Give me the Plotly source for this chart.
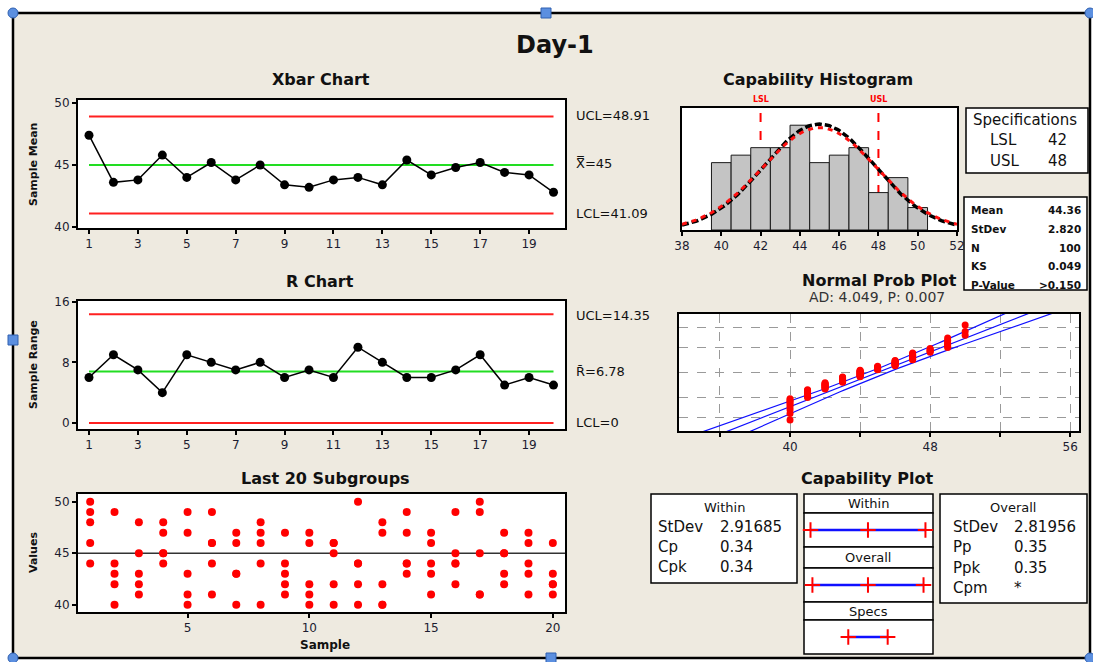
import numpy as np
import plotly.graph_objects as go
from statistics import NormalDist

OFF = 0
WF, HF = 1093, 662
FONT = "DejaVu Sans"
INK = "#111111"
TICK_INK = "#1c1c30"
PANEL = "#EEEAE0"

# ---------------- data ----------------
sample_no = list(range(1, 21))
xbar_means = [47.4, 43.6, 43.8, 45.8, 44.0, 45.2, 43.8, 45.0, 43.4, 43.2,
              43.8, 44.0, 43.4, 45.4, 44.2, 44.8, 45.2, 44.4, 44.2, 42.8]
xbar_ucl, xbar_cl, xbar_lcl = 48.91, 45.0, 41.09
sample_ranges = [6, 9, 7, 4, 9, 8, 7, 8, 6, 7, 6, 10, 8, 6, 6, 7, 9, 5, 6, 5]
r_ucl, r_cl, r_lcl = 14.35, 6.78, 0.0
subgroup_values = [
    [50, 49, 48, 46, 44], [49, 44, 43, 42, 40], [48, 45, 43, 42, 41], [48, 47, 45, 45, 44],
    [49, 47, 43, 41, 40], [49, 46, 46, 44, 41], [47, 46, 43, 43, 40], [48, 47, 46, 44, 40],
    [47, 44, 43, 42, 41], [47, 46, 42, 41, 40], [46, 46, 45, 42, 40], [50, 44, 44, 42, 40],
    [48, 47, 42, 40, 40], [49, 47, 44, 44, 43], [47, 46, 44, 43, 41], [49, 45, 44, 44, 42],
    [50, 49, 45, 41, 41], [47, 45, 45, 43, 42], [47, 46, 44, 43, 41], [46, 43, 42, 42, 41],
]
hist_values = list(range(40, 51))
hist_counts = [9, 10, 11, 11, 14, 9, 10, 11, 5, 7, 3]
lsl, usl = 42, 48
process_mean = 45.0
stdev_within = 2.91685
stdev_overall = 2.81956
n_obs = 100
prob_grid_pct = [1, 10, 50, 90, 99]
prob_tick_vals = [36, 40, 44, 48, 52, 56]
prob_tick_text = ["", "40", "", "48", "", "56"]

spec_rows = [("LSL", "42"), ("USL", "48")]
stat_rows = [("Mean", "44.36"), ("StDev", "2.820"), ("N", "100"), ("KS", "0.049"), ("P-Value", ">0.150")]
within_rows = [("StDev", "2.91685"), ("Cp", "0.34"), ("Cpk", "0.34")]
overall_rows = [("StDev", "2.81956"), ("Pp", "0.35"), ("Ppk", "0.35"), ("Cpm", "*")]


# ---------------- helpers (window pixel -> paper) ----------------
def X(p):
    return (p - OFF) / WF


def Y(p):
    return 1 - (p - OFF) / HF


def xdom(a, b):
    return [X(a), X(b)]


def ydom(a, b):
    return [Y(b), Y(a)]


annotations = []
shapes = []


def text(x, y, s, size=12, bold=False, color=INK, xanchor="center", yanchor="middle",
         angle=0, xref="paper"):
    annotations.append(dict(
        x=X(x) if xref == "paper" else x, y=Y(y), xref=xref, yref="paper",
        text=f"<b>{s}</b>" if bold else s, showarrow=False,
        font=dict(family=FONT, size=size, color=color),
        xanchor=xanchor, yanchor=yanchor, textangle=angle))


def box(x0, y0, x1, y1, lw=1.5, fill="white"):
    shapes.append(dict(type="rect", xref="paper", yref="paper",
                       x0=X(x0), x1=X(x1), y0=Y(y1), y1=Y(y0),
                       line=dict(color="black", width=lw), fillcolor=fill, layer="below"))


frame = dict(showline=True, mirror=True, linecolor="black", linewidth=2, showgrid=False,
             zeroline=False, ticks="outside", ticklen=4, tickwidth=1.5, tickcolor="black",
             automargin=False,
             tickfont=dict(family=FONT, size=12, color=TICK_INK))

fig = go.Figure()

# ---------------- Xbar chart ----------------
for val, col in [(xbar_ucl, "#FF2020"), (xbar_lcl, "#FF2020"), (xbar_cl, "#22DD22")]:
    fig.add_trace(go.Scatter(x=[sample_no[0], sample_no[-1]], y=[val, val], mode="lines",
                             line=dict(color=col, width=2), xaxis="x", yaxis="y", hoverinfo="skip"))
fig.add_trace(go.Scatter(x=sample_no, y=xbar_means, mode="lines+markers",
                         line=dict(color="black", width=1.5), marker=dict(color="black", size=9),
                         xaxis="x", yaxis="y"))

# ---------------- R chart ----------------
for val, col in [(r_ucl, "#FF2020"), (r_lcl, "#FF2020"), (r_cl, "#22DD22")]:
    fig.add_trace(go.Scatter(x=[sample_no[0], sample_no[-1]], y=[val, val], mode="lines",
                             line=dict(color=col, width=2), xaxis="x2", yaxis="y2", hoverinfo="skip"))
fig.add_trace(go.Scatter(x=sample_no, y=sample_ranges, mode="lines+markers",
                         line=dict(color="black", width=1.5), marker=dict(color="black", size=9),
                         xaxis="x2", yaxis="y2"))

# ---------------- Last 20 subgroups ----------------
dot_x, dot_y = [], []
for s, vals in zip(sample_no, subgroup_values):
    for v in vals:
        dot_x.append(s)
        dot_y.append(v)
fig.add_trace(go.Scatter(x=dot_x, y=dot_y, mode="markers", marker=dict(color="#FF0000", size=8),
                         xaxis="x3", yaxis="y3"))
shapes.append(dict(type="line", xref="x3 domain", yref="y3", x0=0, x1=1, y0=process_mean, y1=process_mean,
                   line=dict(color="#333333", width=1.5), layer="below"))

# ---------------- Capability histogram ----------------
fig.add_trace(go.Bar(x=hist_values, y=hist_counts, width=1,
                     marker=dict(color="#C4C4C4", line=dict(color="#1a1a1a", width=1)),
                     xaxis="x4", yaxis="y4"))
xs = np.linspace(38, 52, 141)
overall_curve = [n_obs * NormalDist(process_mean, stdev_overall).pdf(v) for v in xs]
within_curve = [n_obs * NormalDist(process_mean, stdev_within).pdf(v) for v in xs]
fig.add_trace(go.Scatter(x=xs, y=overall_curve, mode="lines",
                         line=dict(color="black", width=3.5, dash="7px,3px"), xaxis="x4", yaxis="y4"))
fig.add_trace(go.Scatter(x=xs, y=within_curve, mode="lines",
                         line=dict(color="#FF1010", width=3, dash="5px,5px"), xaxis="x4", yaxis="y4"))
for v, lab in [(lsl, "LSL"), (usl, "USL")]:
    shapes.append(dict(type="line", xref="x4", yref="y4 domain", x0=v, x1=v, y0=0, y1=1,
                       line=dict(color="#FF0000", width=2, dash="dash"), layer="below"))
    text(v, 99, lab, size=8, bold=True, color="#FF0000", xref="x4")

# ---------------- Normal probability plot ----------------
sorted_vals = sorted(v for grp in subgroup_values for v in grp)
n = len(sorted_vals)
nd = NormalDist()
scores = [nd.inv_cdf((i - 0.3) / (n + 0.4)) for i in range(1, n + 1)]
zz = np.linspace(-3.3, 3.3, 67)
fit = process_mean + stdev_overall * zz
half = 1.96 * stdev_overall * np.sqrt(1.0 / n + zz ** 2 / (2.0 * (n - 1)))
for line_x in (fit - half, fit, fit + half):
    fig.add_trace(go.Scatter(x=line_x, y=zz, mode="lines", line=dict(color="#1010FF", width=1.2),
                             xaxis="x5", yaxis="y5", hoverinfo="skip"))
fig.add_trace(go.Scatter(x=sorted_vals, y=scores, mode="markers", marker=dict(color="#FF0000", size=7),
                         xaxis="x5", yaxis="y5"))

# ---------------- Capability plot lines ----------------
cap_lines = [
    ("x6", "y6", [process_mean - 3 * stdev_within, process_mean, process_mean + 3 * stdev_within]),
    ("x7", "y7", [process_mean - 3 * stdev_overall, process_mean, process_mean + 3 * stdev_overall]),
    ("x8", "y8", [lsl, usl]),
]
for xa, ya, xv in cap_lines:
    fig.add_trace(go.Scatter(x=xv, y=[0] * len(xv), mode="lines+markers",
                             line=dict(color="#1010FF", width=2.5),
                             marker=dict(symbol="cross-thin", size=11, line=dict(color="#FF0000", width=2)),
                             xaxis=xa, yaxis=ya, cliponaxis=False))

# ---------------- panel / boxes ----------------
for (a, b, c, d) in [(0, 0, 1093, 12), (0, 659, 1093, 662), (0, 0, 12, 662), (1091, 0, 1093, 662)]:
    shapes.append(dict(type="rect", xref="paper", yref="paper", x0=X(a), x1=X(c), y0=Y(d), y1=Y(b),
                       line=dict(width=0), fillcolor="white", layer="below"))
shapes.append(dict(type="rect", xref="paper", yref="paper", x0=X(13), x1=X(1090), y0=Y(658), y1=Y(13),
                   line=dict(color="black", width=2.5), fillcolor="rgba(0,0,0,0)", layer="above"))

box(966, 108, 1088, 173)
box(964, 197, 1087, 290)
box(651, 494, 797, 583)
for (a, b) in [(494, 513), (513, 547), (547, 568), (568, 602), (602, 620), (620, 654)]:
    box(804, a, 933, b)
box(940, 494, 1087, 603)

# selection handles
for (hx, hy) in [(13, 13), (1090, 13), (13, 658), (1090, 658)]:
    shapes.append(dict(type="circle", xref="paper", yref="paper", x0=X(hx - 5), x1=X(hx + 5),
                       y0=Y(hy + 5), y1=Y(hy - 5), fillcolor="#5B8FE0", line=dict(color="#3060B0", width=1),
                       layer="above"))
for (hx, hy) in [(546, 13), (13, 340), (551, 658)]:
    shapes.append(dict(type="rect", xref="paper", yref="paper", x0=X(hx - 5), x1=X(hx + 5),
                       y0=Y(hy + 5), y1=Y(hy - 5), fillcolor="#5B8FE0", line=dict(color="#3060B0", width=1),
                       layer="above"))

# ---------------- texts ----------------
text(555, 45, "Day-1", size=24, bold=True)
text(321, 79, "Xbar Chart", size=16, bold=True)
text(320, 281, "R Chart", size=16, bold=True)
text(325, 478, "Last 20 Subgroups", size=16, bold=True)
text(818, 79, "Capability Histogram", size=16, bold=True)
text(879, 280, "Normal Prob Plot", size=16, bold=True)
text(877, 297, "AD: 4.049, P: 0.007", size=14, color="#333333")
text(867, 478, "Capability Plot", size=16, bold=True)

text(33, 165, "Sample Mean", size=11, bold=True, angle=-90)
text(33, 365, "Sample Range", size=11, bold=True, angle=-90)
text(33, 553, "Values", size=11, bold=True, angle=-90)
text(325, 645, "Sample", size=12, bold=True)

text(574, 115, f"UCL={xbar_ucl:.2f}", size=13, xanchor="left")
text(574, 163, f"X\u033f={xbar_cl:g}", size=13, xanchor="left")
text(574, 213, f"LCL={xbar_lcl:.2f}", size=13, xanchor="left")
text(574, 315, f"UCL={r_ucl:.2f}", size=13, xanchor="left")
text(574, 371, f"R\u0304={r_cl:.2f}", size=13, xanchor="left")
text(574, 423, f"LCL={r_lcl:g}", size=13, xanchor="left")

text(971, 120, "Specifications", size=15, xanchor="left")
for i, (lab, val) in enumerate(spec_rows):
    yy = 140 + 21 * i
    text(988, yy, lab, size=15, xanchor="left")
    text(1046, yy, val, size=15, xanchor="left")

for i, (lab, val) in enumerate(stat_rows):
    yy = 210 + 18.8 * i
    text(969, yy, lab, size=10.5, bold=True, xanchor="left")
    text(1083, yy, val, size=10.5, bold=True, xanchor="right")

text(724, 507, "Within", size=13)
for i, (lab, val) in enumerate(within_rows):
    yy = 527 + 20 * i
    text(656, yy, lab, size=15, xanchor="left")
    text(718, yy, val, size=15, xanchor="left")

text(1013, 507, "Overall", size=13)
for i, (lab, val) in enumerate(overall_rows):
    yy = 527 + 20.3 * i
    text(951, yy, lab, size=15, xanchor="left")
    text(1012, yy, val, size=15, xanchor="left")

text(868, 503.5, "Within", size=13)
text(868, 557.5, "Overall", size=13)
text(868, 611, "Specs", size=13)

# ---------------- layout ----------------
hidden = dict(visible=False, showgrid=False, zeroline=False, automargin=False)
layout = dict(
    width=WF, height=HF, margin=dict(l=0, r=0, t=0, b=0, pad=0, autoexpand=False),
    paper_bgcolor=PANEL, plot_bgcolor="white", showlegend=False,
    font=dict(family=FONT, color=INK),
    annotations=annotations, shapes=shapes,
    xaxis=dict(domain=xdom(78, 565), range=[0.55, 20.47], tickvals=list(range(1, 20, 2)), anchor="y", **frame),
    yaxis=dict(domain=ydom(100, 228), range=[39.92, 50.24], tickvals=[40, 45, 50], anchor="x", **frame),
    xaxis2=dict(domain=xdom(78, 565), range=[0.55, 20.47], tickvals=list(range(1, 20, 2)), anchor="y2", **frame),
    yaxis2=dict(domain=ydom(301, 429), range=[-0.8, 16.1], tickvals=[0, 8, 16], anchor="x2", **frame),
    xaxis3=dict(domain=xdom(78, 565), range=[0.5, 20.5], tickvals=[5, 10, 15, 20], anchor="y3", **frame),
    yaxis3=dict(domain=ydom(494, 612), range=[39.3, 50.75], tickvals=[40, 45, 50], anchor="x3", **frame),
    xaxis4=dict(domain=xdom(682, 957), range=[38, 52], tickvals=list(range(38, 53, 2)), anchor="y4", **frame),
    yaxis4=dict(domain=ydom(108, 230), range=[0, 16.3], anchor="x4",
                **{**frame, "ticks": "", "showticklabels": False}),
    xaxis5=dict(domain=xdom(679, 1079), range=[33.66, 56.5], tickvals=prob_tick_vals, ticktext=prob_tick_text,
                anchor="y5", **{**frame, "showgrid": True, "gridcolor": "#9a9a9a", "griddash": "dash",
                                "gridwidth": 1}),
    yaxis5=dict(domain=ydom(314, 431), range=[-3.03, 3.03],
                tickvals=[nd.inv_cdf(p / 100) for p in prob_grid_pct], anchor="x5",
                **{**frame, "ticks": "", "showticklabels": False, "showgrid": True, "gridcolor": "#9a9a9a",
                   "griddash": "dash", "gridwidth": 1}),
    xaxis6=dict(domain=xdom(804, 933), range=[35.26, 54.9], anchor="y6", **hidden),
    yaxis6=dict(domain=ydom(513, 547), range=[-1, 1], anchor="x6", **hidden),
    xaxis7=dict(domain=xdom(804, 933), range=[35.26, 54.9], anchor="y7", **hidden),
    yaxis7=dict(domain=ydom(568, 602), range=[-1, 1], anchor="x7", **hidden),
    xaxis8=dict(domain=xdom(804, 933), range=[35.26, 54.9], anchor="y8", **hidden),
    yaxis8=dict(domain=ydom(620, 654), range=[-1, 1], anchor="x8", **hidden),
)
fig.update_layout(**layout)
# remove the browser's default page margin so the figure sits at the window's top-left corner
fig.write_html("out.html", config={"displayModeBar": False},
               post_script="document.body.style.margin='0';document.body.style.overflow='hidden';")
